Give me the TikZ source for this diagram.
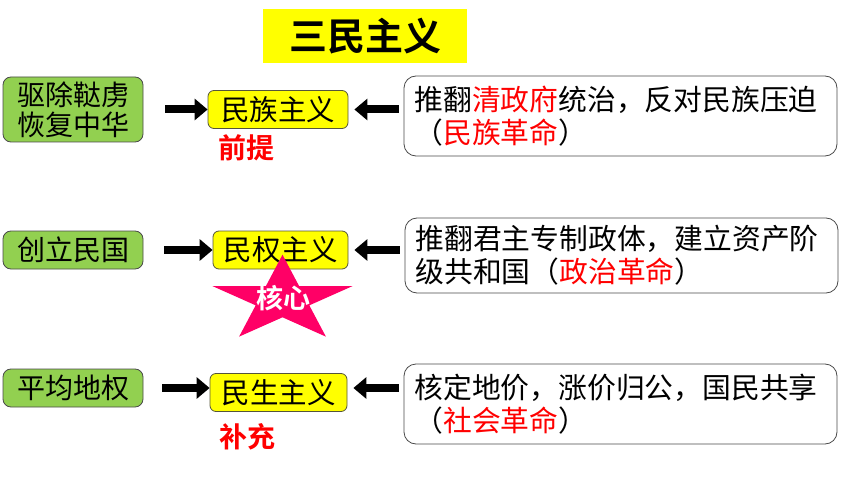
\documentclass[tikz,border=0pt]{standalone}
\usepackage{fontspec}
\setmainfont{Noto Sans CJK SC}[BoldFont={* Bold}]
\usetikzlibrary{arrows.meta}
\definecolor{boxgreen}{HTML}{92D050}
\definecolor{boxyellow}{HTML}{FFFF00}
\definecolor{starpink}{HTML}{FF0066}
\definecolor{edgegrey}{HTML}{4A4A4A}
\tikzset{
  x=1pt, y=-1pt,
  greenbox/.style={draw=edgegrey, line width=0.8pt, fill=boxgreen, rounded corners=8pt,
    minimum width=140pt, align=center, font=\fontsize{28}{30}\selectfont, inner sep=0pt},
  yellowbox/.style={draw=edgegrey!80!olive, line width=0.8pt, fill=boxyellow, rounded corners=6pt,
    minimum height=38pt, align=center, font=\fontsize{28.5}{30}\selectfont, inner sep=0pt},
  textbox/.style={draw=edgegrey, line width=0.8pt, fill=white, rounded corners=12pt,
    minimum width=433pt, text width=412pt, align=left, inner sep=0pt,
    font=\fontsize{28.8}{33}\selectfont},
  fat/.style={line width=8pt, -{Triangle[length=13pt,width=21pt]}},
  redlabel/.style={text=red, font=\bfseries\fontsize{28}{30}\selectfont, inner sep=0pt},
}
\begin{document}
\begin{tikzpicture}
\useasboundingbox[fill=white] (0,0) rectangle (860,484);
% title
\node[fill=boxyellow, minimum width=204pt, minimum height=54pt, inner sep=0pt,
  font=\bfseries\fontsize{38}{40}\selectfont] (title) at (365,36) {三民主义};
% green boxes
\node[greenbox, minimum height=65pt] (g1) at (73,109.5) {驱除鞑虏\\恢复中华};
\node[greenbox, minimum height=38pt] (g2) at (73,250) {创立民国};
\node[greenbox, minimum height=38pt] (g3) at (73,388) {平均地权};
% yellow boxes
\node[yellowbox, minimum width=140pt] (y1) at (278,109.5) {民族主义};
\node[yellowbox, minimum width=135pt] (y2) at (280.5,250) {民权主义};
\node[yellowbox, minimum width=137pt] (y3) at (278.5,392.5) {民生主义};
% text boxes
\node[textbox, minimum height=80pt] (r1) at (620.5,116) {推翻\textcolor{red}{清政府}统治，反对民族压迫\\（\textcolor{red}{民族革命}）};
\node[textbox, minimum height=75pt] (r2) at (621.5,255.5) {推翻君主专制政体，建立资产阶\\级共和国（\textcolor{red}{政治革命}）};
\node[textbox, minimum height=80pt] (r3) at (620.5,404) {核定地价，涨价归公，国民共享\\（\textcolor{red}{社会革命}）};
% arrows
\draw[fat, shorten <=22pt] (g1.east) -- (g1.east -| y1.west);
\draw[fat, shorten <=21pt] (g2.east) -- (g2.east -| y2.west);
\draw[fat, shorten <=19pt] (g3.east) -- (g3.east -| y3.west);
\draw[fat, shorten <=5pt, shorten >=6pt] (y1.east -| r1.west) -- (y1.east);
\draw[fat, shorten <=5pt, shorten >=6pt] (y2.east -| r2.west) -- (y2.east);
\draw[fat, shorten <=5pt, shorten >=6pt] (g3.east -| r3.west) -- (g3.east -| y3.east);
% labels
\node[redlabel] (l1) at (246,148) {前提};
\node[redlabel] (l3) at (247,437) {补充};
% star
\begin{scope}[shift={(282.5,300)}, xscale=1.63, yscale=-1]
\fill[starpink] (90:45.3) -- (54:17.3) -- (18:45.3) -- (-18:17.3) -- (-54:45.3)
  -- (-90:17.3) -- (-126:45.3) -- (-162:17.3) -- (162:45.3) -- (126:17.3) -- cycle;
\end{scope}
\node[text=white, font=\bfseries\fontsize{27}{29}\selectfont, inner sep=0pt] (core) at (283,298) {核心};
\end{tikzpicture}
\end{document}
